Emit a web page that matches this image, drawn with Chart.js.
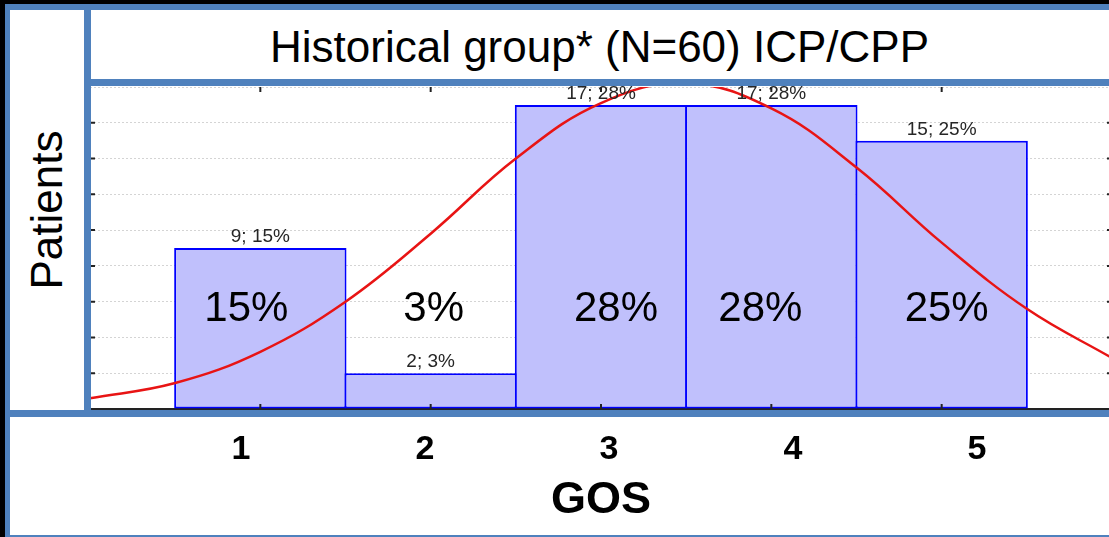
<!DOCTYPE html>
<html>
<head>
<meta charset="utf-8">
<script src="https://cdn.jsdelivr.net/npm/chart.js@4.4.1/dist/chart.umd.min.js"></script>
<style>
  html, body { margin: 0; padding: 0; background: #000; }
  body { width: 1109px; height: 537px; overflow: hidden; position: relative; font-family: Arial, "Liberation Sans", sans-serif; }
  .white { position: absolute; background: #fff; z-index: 1; }
  .band { position: absolute; background: #4f81bd; z-index: 4; }
  #wrap { position: absolute; left: 0; top: 0; width: 1112px; height: 537px; z-index: 2; }
  #title { position: absolute; left: 90px; top: 12px; width: 1019px; height: 69px; z-index: 3; background: #fff;
           display: flex; align-items: center; justify-content: center; font-size: 44px; color: #000; }
  #patients { position: absolute; left: 10px; top: 10px; width: 74px; height: 400px; z-index: 3; background: #fff; }
  #patients span { position: absolute; left: 50%; top: 50%; transform: translate(-50%, -50%) rotate(-90deg);
                   font-size: 44px; color: #000; white-space: nowrap; }
</style>
</head>
<body>
<div class="white" style="left:90px;top:86px;width:1019px;height:324px"></div>
<div class="white" style="left:10px;top:417px;width:1099px;height:118px"></div>
<div class="white" style="left:90px;top:10px;width:1019px;height:70px"></div>

<div id="wrap"><canvas id="chart" width="1112" height="537"></canvas></div>

<div id="title">Historical group* (N=60) ICP/CPP</div>
<div id="patients"><span>Patients</span></div>

<div class="band" style="left:5px;top:4px;width:1104px;height:6px"></div>
<div class="band" style="left:5px;top:4px;width:5px;height:533px"></div>
<div class="band" style="left:84px;top:4px;width:7px;height:406px"></div>
<div class="band" style="left:84px;top:79px;width:1025px;height:7px"></div>
<div class="band" style="left:5px;top:410px;width:1104px;height:7px"></div>
<div class="band" style="left:5px;top:535px;width:1104px;height:2px"></div>

<script>
// GOS histogram, historical group
const gosScores = [1, 2, 3, 4, 5];
const gosLabels = ['1', '2', '3', '4', '5'];
const patients = [9, 2, 17, 17, 15];
const percents = [15, 3, 28, 28, 25];

// fitted normal curve
const curveX = [0, 0.5, 1, 1.5, 2, 2.5, 3, 3.5, 4, 4.5, 5, 5.5, 6];
const curveY = [0.6, 1.45, 3.2, 6.0, 9.8, 14.0, 17.1, 18.2, 16.8, 13.5, 9.3, 5.6, 2.85];

// big slide labels sit a little off the bar centres
const bigShift = [-14, 3, 15, -11, 5];

const overlayText = {
    id: 'overlayText',
    afterDatasetsDraw(chart) {
        const ctx = chart.ctx,
            bars = chart.getDatasetMeta(1).data,
            y = chart.scales.y;
        ctx.save();
        ctx.textAlign = 'center';
        ctx.textBaseline = 'alphabetic';
        bars.forEach((bar, i) => {
            ctx.fillStyle = '#262626';
            ctx.font = '19px Arial, "Liberation Sans"';
            ctx.fillText(patients[i] + '; ' + percents[i] + '%', bar.x, bar.y - 6);
            ctx.fillStyle = '#000';
            ctx.font = '42px Arial, "Liberation Sans"';
            ctx.fillText(percents[i] + '%', bar.x + bigShift[i], y.getPixelForValue(4.9));
        });
        ctx.restore();
    }
};

const innerTicks = {
    id: 'innerTicks',
    afterDraw(chart) {
        const { ctx, chartArea: a, scales } = chart;
        ctx.save();
        ctx.strokeStyle = '#222';
        ctx.lineWidth = 2;
        ctx.beginPath();
        scales.y.ticks.forEach(t => {
            if (t.value <= 0 || t.value >= 18) {
                return;
            }
            const py = scales.y.getPixelForValue(t.value);
            ctx.moveTo(a.left, py);
            ctx.lineTo(a.left + 5, py);
            ctx.moveTo(a.right, py);
            ctx.lineTo(a.right - 5, py);
        });
        gosScores.forEach(v => {
            const px = scales.x.getPixelForValue(v);
            ctx.moveTo(px, a.bottom);
            ctx.lineTo(px, a.bottom - 5);
            ctx.moveTo(px, a.top);
            ctx.lineTo(px, a.top + 5);
        });
        ctx.stroke();
        ctx.restore();
    }
};

new Chart(document.getElementById('chart'), {
    data: {
        datasets: [
            {
                type: 'line',
                data: curveX.map((x, i) => ({ x: x, y: curveY[i] })),
                borderColor: 'rgb(232,20,20)',
                borderWidth: 2.5,
                pointRadius: 0,
                tension: 0.4,
                order: 0
            },
            {
                type: 'bar',
                data: gosScores.map((x, i) => ({ x: x, y: patients[i] })),
                backgroundColor: 'rgb(192,192,252)',
                borderColor: 'rgb(0,0,255)',
                borderWidth: 2,
                borderSkipped: false,
                barPercentage: 1.012,
                categoryPercentage: 1,
                order: 1
            }
        ]
    },
    options: {
        responsive: false,
        animation: false,
        devicePixelRatio: 1,
        layout: {
            padding: { left: 90, top: 87, right: 0, bottom: 0 }
        },
        scales: {
            x: {
                type: 'linear',
                min: 0,
                max: 6,
                offset: false,
                display: false
            },
            xl: {
                type: 'linear',
                position: 'bottom',
                min: 0.1793,
                max: 5.7337,
                offset: false,
                afterBuildTicks: s => {
                    s.ticks = gosScores.map(v => ({ value: v }));
                },
                afterFit: s => {
                    s.height = 128;
                },
                grid: { display: false, drawTicks: false },
                border: { display: true, color: '#222', width: 2 },
                ticks: {
                    padding: 20,
                    color: '#000',
                    font: { family: 'Arial, "Liberation Sans"', size: 34, weight: 'bold' },
                    callback: (v, i) => gosLabels[i]
                },
                title: {
                    display: true,
                    text: 'GOS',
                    color: '#000',
                    font: { family: 'Arial, "Liberation Sans"', size: 45, weight: 'bold', lineHeight: 1 },
                    padding: { top: 0, bottom: 14 }
                }
            },
            y: {
                min: 0,
                max: 18,
                afterFit: s => {
                    s.width = 0;
                },
                ticks: { display: false, stepSize: 2 },
                grid: { color: '#d4d4d4', lineWidth: 1, drawTicks: false },
                border: { display: false, dash: [2, 2] }
            }
        },
        plugins: {
            legend: { display: false },
            tooltip: { enabled: false }
        }
    },
    plugins: [overlayText, innerTicks]
});
</script>
</body>
</html>
